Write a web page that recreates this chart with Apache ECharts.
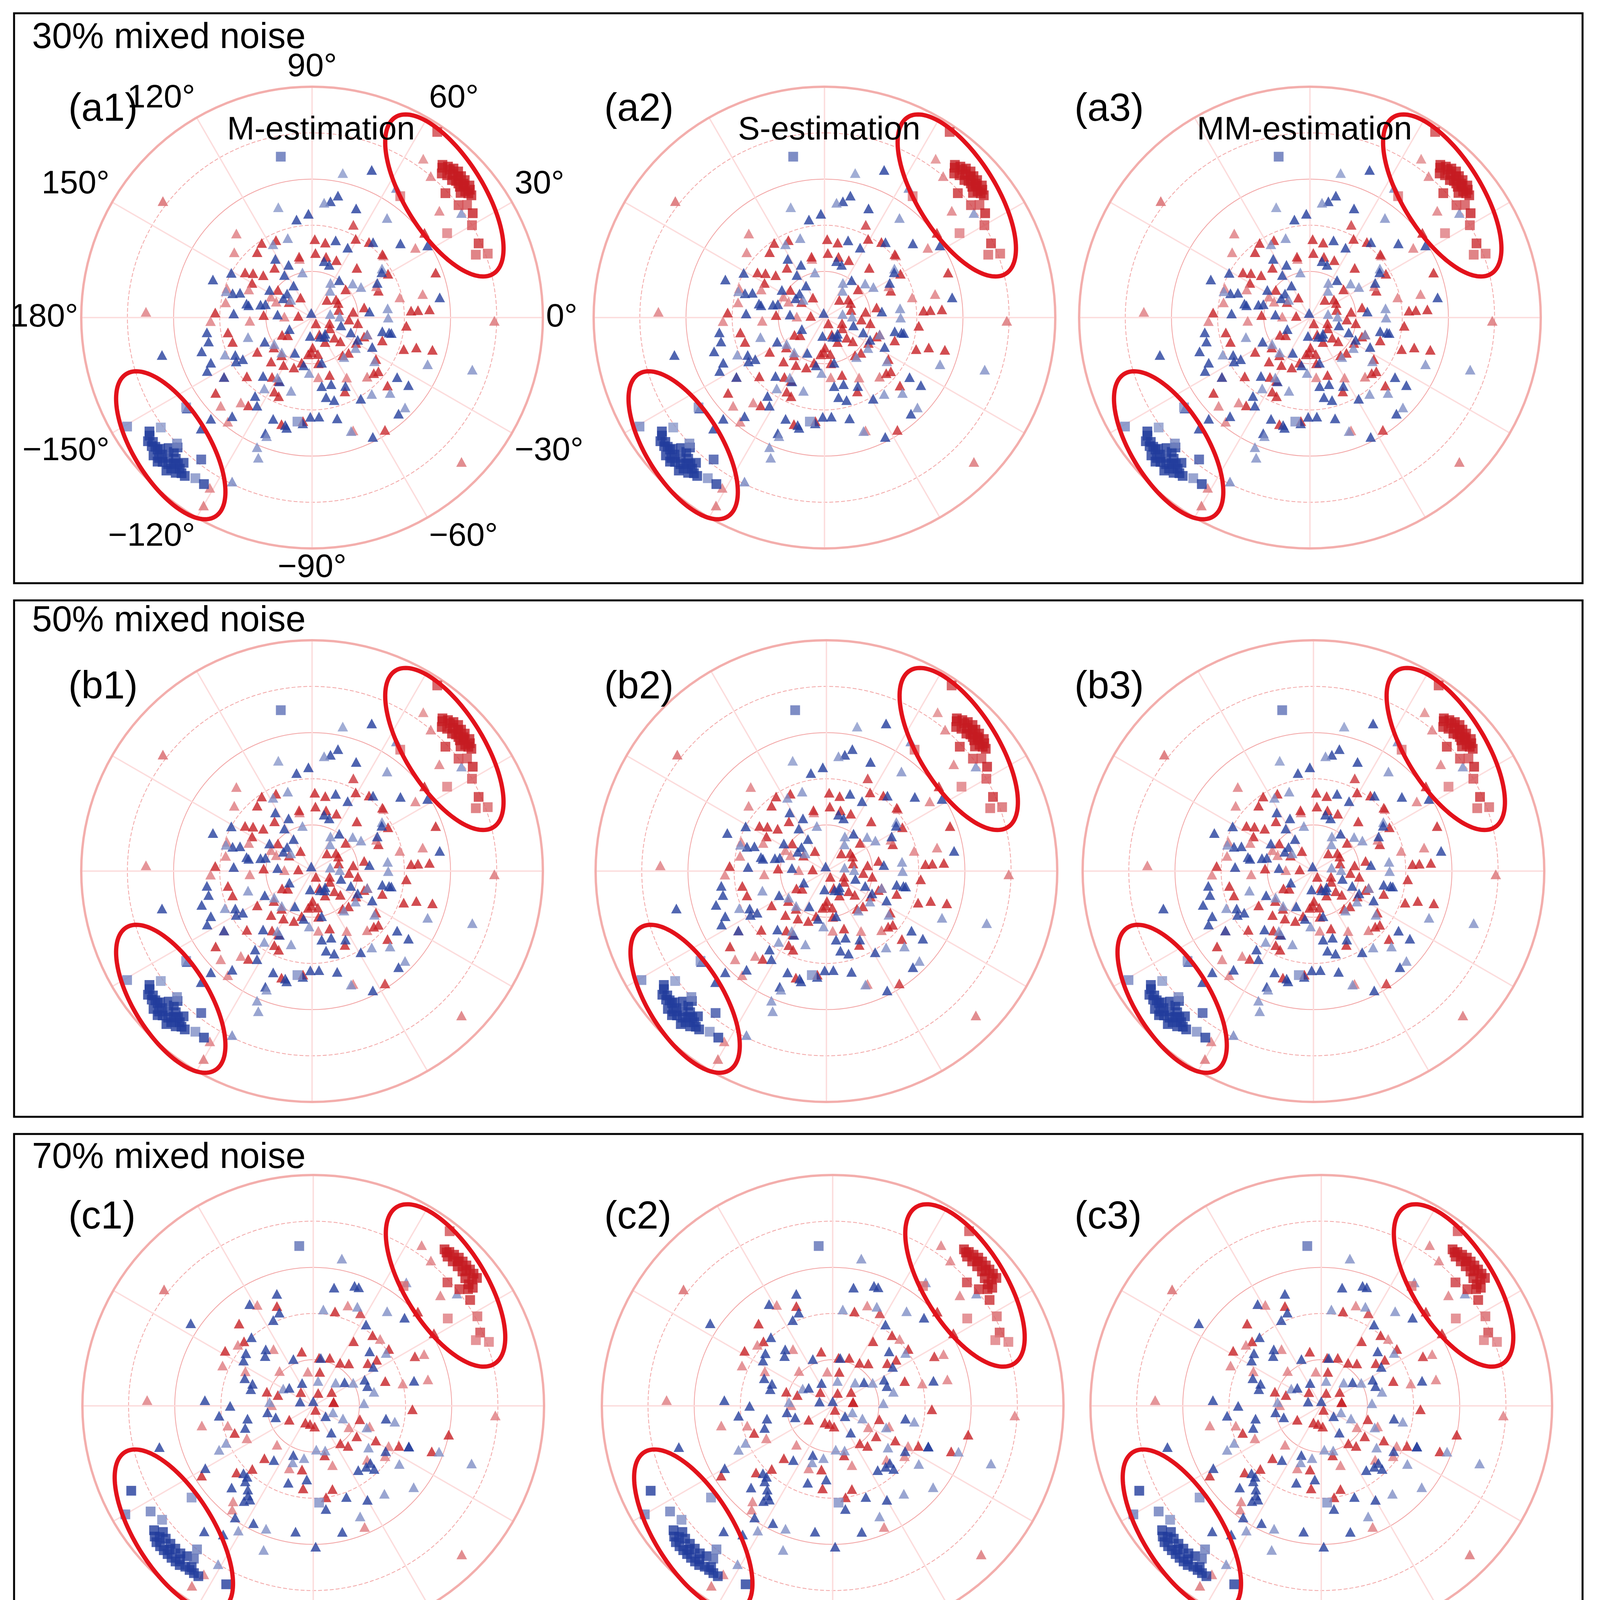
<!DOCTYPE html>
<html><head><meta charset="utf-8">
<script src="https://cdn.jsdelivr.net/npm/echarts@6/dist/echarts.min.js"></script>
<style>html,body{margin:0;padding:0;background:#fff}#c{width:4089px;height:4600px}</style>
</head><body><div id="c"></div>
<script>
// ---------------- DATA: [radius (0-1), phase angle (deg), weight] ----------------
const zxxAB = [[0.82,142,0.6],[0.44,66,0.8],[0.84,55,0.45],[0.80,50,0.5],[0.72,40,0.5],[0.61,37,0.9],[0.54,34,0.5],[0.57,20,0.9],[0.49,12,0.5],[0.51,4,0.9],[0.43,4,0.9],[0.79,-1,0.55],[0.90,-44,0.55],[0.54,-15,0.9],[0.47,-16,0.9],[0.42,-19,0.9],[0.41,-5,0.9],[0.58,-57,0.85],[0.44,-42,0.9],[0.35,-47,0.55],[0.37,-39,0.9],[0.33,-33,0.9],[0.22,-30,0.9],[0.39,13,0.5],[0.31,22,0.9],[0.38,30,0.9],[0.29,48,0.9],[0.41,53,0.9],[0.41,41,0.5],[0.39,61,0.9],[0.34,88,0.9],[0.27,67,0.9],[0.28,87,0.9],[0.19,40,0.9],[0.13,37,0.9],[0.06,173,0.9],[0.03,-56,0.9],[0.12,16,0.9],[0.09,-31,0.9],[0.12,-62,0.9],[0.13,-42,0.9],[0.16,-81,0.9],[0.16,-96,0.9],[0.20,-82,0.9],[0.20,-103,0.9],[0.26,-84,0.5],[0.26,-73,0.9],[0.35,-66,0.9],[0.22,-44,0.9],[0.20,-7,0.9],[0.18,8,0.9],[0.72,178,0.5],[0.49,132,0.5],[0.44,140,0.5],[0.39,124,0.9],[0.37,130,0.9],[0.37,115,0.9],[0.27,127,0.9],[0.35,146,0.9],[0.26,102,0.5],[0.19,141,0.9],[0.17,156,0.5],[0.38,170,0.5],[0.39,161,0.5],[0.42,177,0.9],[0.21,177,0.9],[0.27,-177,0.5],[0.44,-178,0.5],[0.37,-170,0.9],[0.36,-163,0.9],[0.28,-148,0.9],[0.26,-133,0.9],[0.21,-129,0.9],[0.46,-146,0.5],[0.38,-138,0.9],[0.31,-124,0.9],[0.47,-126,0.9],[0.48,-130,0.5],[0.37,-113,0.9],[0.55,-136,0.5],[0.58,-129,0.5],[0.48,-106,0.9],[0.86,-121,0.5],[0.94,-120,0.55],[0.33,80,0.9],[0.30,-60,0.5],[0.24,-20,0.9],[0.15,-150,0.9],[0.10,120,0.9],[0.45,-95,0.9],[0.52,-70,0.5],[0.30,150,0.9],[0.23,-110,0.9],[0.32,-18,0.9],[0.27,77,0.9],[0.08,-18,0.9],[0.13,-89,0.9],[0.16,-40,0.9],[0.21,-51,0.9],[0.16,-3,0.9],[0.20,153,0.5],[0.12,178,0.5],[0.21,-142,0.9],[0.31,-118,0.9],[0.12,146,0.9],[0.27,102,0.9],[0.28,139,0.9],[0.32,143,0.9],[0.36,-42,0.9],[0.25,-17,0.9],[0.46,4,0.9],[0.53,-142,0.9],[0.10,50,0.9],[0.13,29,0.9],[0.08,-67,0.9],[0.15,-91,0.9],[0.23,11,0.9],[0.41,42,0.9],[0.30,156,0.5],[0.36,-117,0.9],[0.24,-121,0.9],[0.13,-144,0.9],[0.31,26,0.5]];
const zyyAB = [[0.64,78,0.45],[0.69,68,0.95],[0.50,107,0.45],[0.45,92,0.95],[0.43,99,0.9],[0.51,81,0.9],[0.54,78,0.9],[0.50,84,0.5],[0.51,68,0.95],[0.54,53,0.5],[0.67,57,0.55],[0.79,35,0.5],[0.59,32,0.9],[0.56,9,0.9],[0.73,-18,0.5],[0.54,-22,0.5],[0.35,-11,0.9],[0.51,-35,0.9],[0.45,-35,0.9],[0.56,-44,0.5],[0.56,-48,0.9],[0.58,-63,0.9],[0.52,-71,0.5],[0.45,-76,0.9],[0.41,-59,0.9],[0.42,-52,0.5],[0.47,-44,0.5],[0.29,-26,0.9],[0.31,-11,0.9],[0.33,7,0.5],[0.25,6,0.9],[0.32,28,0.9],[0.37,35,0.5],[0.42,51,0.9],[0.34,63,0.9],[0.35,73,0.9],[0.24,72,0.9],[0.17,62,0.5],[0.20,54,0.9],[0.23,40,0.5],[0.25,32,0.5],[0.02,100,0.9],[0.08,11,0.5],[0.13,-15,0.9],[0.09,-67,0.9],[0.08,-96,0.9],[0.24,-93,0.5],[0.30,-82,0.9],[0.30,-74,0.9],[0.35,-80,0.9],[0.37,-75,0.9],[0.43,-86,0.9],[0.43,-91,0.9],[0.46,-95,0.9],[0.33,-106,0.5],[0.22,-26,0.9],[0.50,40,0.9],[0.67,-166,0.9],[0.46,159,0.9],[0.36,118,0.5],[0.36,107,0.5],[0.30,122,0.9],[0.40,151,0.9],[0.22,123,0.9],[0.25,114,0.9],[0.16,120,0.9],[0.20,102,0.5],[0.22,147,0.9],[0.15,136,0.9],[0.15,146,0.9],[0.36,163,0.9],[0.29,168,0.9],[0.34,177,0.9],[0.21,164,0.9],[0.15,175,0.9],[0.46,-172,0.9],[0.46,-167,0.9],[0.41,-157,0.5],[0.37,-154,0.9],[0.50,-163,0.9],[0.48,-156,0.9],[0.51,-153,0.9],[0.29,-163,0.5],[0.23,-153,0.9],[0.17,-116,0.9],[0.33,-130,0.9],[0.31,-117,0.9],[0.45,-122,0.9],[0.67,-144,0.9],[0.68,-135,0.9],[0.62,-135,0.9],[0.47,-111,0.9],[0.54,-112,0.9],[0.61,-113,0.5],[0.65,-111,0.5],[0.79,-116,0.55],[0.48,-104,0.9],[0.38,-150,0.9],[0.30,-120,0.5],[0.25,78,0.9],[0.14,56,0.5],[0.09,-51,0.9],[0.21,-100,0.9],[0.33,-64,0.9],[0.18,-21,0.9],[0.22,-51,0.5],[0.23,-35,0.5],[0.33,-35,0.5],[0.34,-11,0.9],[0.36,33,0.9],[0.12,140,0.5],[0.33,161,0.9],[0.39,163,0.5],[0.35,-149,0.9],[0.20,-145,0.5],[0.20,-131,0.5],[0.46,-146,0.9],[0.42,-126,0.9],[0.37,-124,0.5],[0.49,-103,0.9],[0.55,-111,0.5],[0.55,-129,0.9],[0.10,-57,0.9],[0.20,-78,0.9],[0.11,-153,0.9],[0.33,0,0.5],[0.25,-17,0.5],[0.12,2,0.5],[0.23,166,0.9],[0.28,169,0.9]];
const zxyAB = [[0.97,56,0.75],[0.65,54,0.55],[0.86,49,0.95],[0.88,48,0.95],[0.89,46.5,1],[0.895,45,1],[0.89,43.5,1],[0.89,42,1],[0.89,40,1],[0.88,39,1],[0.87,37.5,1],[0.85,46.5,0.9],[0.85,44.5,0.95],[0.86,42.5,0.95],[0.87,41,0.95],[0.84,40,0.9],[0.79,43,0.85],[0.80,37.5,0.75],[0.83,36,0.7],[0.83,33,0.95],[0.80,30,0.7],[0.69,32,0.5],[0.79,24,0.85],[0.76,21,0.6],[0.81,20,0.6],[0.87,45.5,1],[0.86,39.5,1],[0.84,48,0.9],[0.875,47,1],[0.88,44,1],[0.875,41.5,1],[0.865,38.5,1],[0.86,43.5,1],[0.855,41.5,1],[0.87,49.5,0.95]];
const zyxAB = [[0.93,-149.5,0.55],[0.81,-144,0.45],[0.67,-144.5,0.5],[0.86,-145,1],[0.89,-143,1],[0.89,-141.3,1],[0.88,-139.5,1],[0.88,-137.6,1],[0.87,-135.7,1],[0.87,-133.5,1],[0.87,-131.2,1],[0.88,-128.8,1],[0.915,-133.6,1],[0.915,-137,1],[0.87,-139.2,1],[0.84,-137.7,1],[0.835,-135.8,1],[0.81,-136,0.9],[0.84,-131.5,1],[0.895,-131.3,1],[0.91,-139,1],[0.78,-128,0.8],[0.86,-126,0.5],[0.86,-123,1],[0.80,-137,0.55],[0.455,-98,0.5],[0.71,101,0.65],[0.87,-144,1],[0.89,-134.5,1],[0.875,-142,1],[0.88,-140.5,1],[0.90,-136,1],[0.895,-133,1],[0.88,-130,1],[0.85,-134,1],[0.86,-132.5,1],[0.90,-137.5,1]];

const zxxC = [[0.82,142,0.6],[0.84,56,0.5],[0.81,51,0.5],[0.73,41,0.5],[0.50,119,0.5],[0.46,110,0.9],[0.42,77,0.9],[0.46,71,0.5],[0.45,63,0.8],[0.61,42,0.9],[0.61,31,0.9],[0.53,25,0.5],[0.49,26,0.85],[0.51,13,0.5],[0.40,14,0.5],[0.43,-2,0.9],[0.79,-3,0.5],[0.60,-12,0.9],[0.55,-21,0.9],[0.91,-45,0.55],[0.41,-25,0.9],[0.57,-67,0.5],[0.87,-123,0.5],[0.94,-124,0.55],[0.57,-128,0.5],[0.57,-148,0.9],[0.72,178,0.5],[0.49,-170,0.5],[0.43,156,0.5],[0.45,148,0.9],[0.48,132,0.9],[0.41,137,0.9],[0.33,153,0.5],[0.21,163,0.9],[0.16,163,0.9],[0.18,179,0.5],[0.38,-167,0.5],[0.36,-161,0.9],[0.32,-154,0.5],[0.44,-139,0.9],[0.38,-134,0.9],[0.31,-133,0.9],[0.23,-133,0.5],[0.29,-111,0.5],[0.36,-97,0.9],[0.22,-77,0.9],[0.40,-82,0.9],[0.37,-77,0.9],[0.27,-72,0.5],[0.20,-54,0.9],[0.23,-49,0.9],[0.23,-35,0.9],[0.31,-29,0.9],[0.21,-16,0.9],[0.18,-31,0.5],[0.09,11,0.9],[0.10,37,0.9],[0.22,58,0.9],[0.22,71,0.9],[0.21,83,0.9],[0.15,99,0.5],[0.06,69,0.9],[0.02,-60,0.9],[0.08,132,0.9],[0.24,102,0.9],[0.08,-115,0.9],[0.41,37,0.9],[0.40,50,0.9],[0.33,58,0.9],[0.30,38,0.9],[0.33,19,0.9],[0.33,-45,0.5],[0.26,-20,0.5],[0.30,125,0.5],[0.12,-150,0.9],[0.28,-100,0.9],[0.42,141,0.5],[0.54,-130,0.5],[0.38,-35,0.5],[0.37,-28,0.5],[0.24,50,0.9],[0.15,79,0.9],[0.21,134,0.5],[0.08,-100,0.9],[0.09,-86,0.9],[0.09,10,0.9],[0.41,45,0.5],[0.34,36,0.9]];
const zyyC = [[0.65,79,0.5],[0.67,53,0.5],[0.79,38,0.5],[0.52,80,0.9],[0.55,71,0.9],[0.51,108,0.9],[0.52,122,0.9],[0.43,110,0.9],[0.42,84,0.5],[0.47,66,0.5],[0.52,52,0.5],[0.55,44,0.9],[0.45,14,0.9],[0.58,-20,0.5],[0.73,-20,0.5],[0.45,-23,0.9],[0.56,-39,0.5],[0.45,-34,0.5],[0.36,-11,0.5],[0.32,-10,0.9],[0.49,-51,0.5],[0.52,-67,0.5],[0.47,-60,0.9],[0.42,-70,0.9],[0.56,-77,0.9],[0.61,-89,0.9],[0.55,-98,0.9],[0.66,-109,0.5],[0.57,-111,0.5],[0.57,-117,0.9],[0.63,-121,0.5],[0.68,-125,0.9],[0.72,-131,0.9],[0.80,-121,0.5],[0.59,-125,0.9],[0.54,-150,0.9],[0.69,-165,0.9],[0.64,146,0.9],[0.47,177,0.9],[0.45,-155,0.5],[0.41,-174,0.9],[0.36,180,0.9],[0.40,132,0.9],[0.37,142,0.9],[0.32,158,0.9],[0.28,160,0.9],[0.32,130,0.9],[0.20,-172,0.9],[0.17,-163,0.9],[0.29,-169,0.9],[0.31,-162,0.9],[0.50,-135,0.9],[0.44,-132,0.9],[0.46,-128,0.9],[0.48,-126,0.9],[0.51,-126,0.9],[0.42,-136,0.9],[0.29,-126,0.9],[0.23,-112,0.9],[0.35,-108,0.9],[0.32,-95,0.9],[0.45,-83,0.9],[0.14,-56,0.9],[0.34,-55,0.9],[0.35,-45,0.9],[0.30,-37,0.5],[0.37,-32,0.9],[0.45,-23,0.9],[0.22,3,0.5],[0.17,37,0.9],[0.11,79,0.5],[0.02,90,0.9],[0.11,116,0.9],[0.22,113,0.9],[0.09,-18,0.5],[0.34,44,0.9],[0.39,36,0.5],[0.42,57,0.9],[0.26,-110,0.5],[0.15,150,0.5],[0.25,20,0.9],[0.20,-75,0.5],[0.55,69,0.9],[0.41,115,0.9],[0.36,147,0.9],[0.28,165,0.9],[0.30,134,0.9],[0.19,175,0.5],[0.41,-157,0.5],[0.49,-124,0.9],[0.42,-133,0.9],[0.23,-100,0.5],[0.19,-86,0.5],[0.38,-46,0.9],[0.35,-49,0.9],[0.25,-22,0.5],[0.14,-23,0.5],[0.20,30,0.5],[0.14,46,0.5],[0.21,81,0.9],[0.13,143,0.9],[0.06,162,0.9],[0.07,-40,0.9],[0.31,33,0.9],[0.25,27,0.9],[0.27,13,0.5]];
const zxyC = [[0.96,52,0.7],[0.65,53,0.55],[0.885,50,1],[0.89,48.5,1],[0.895,47,1],[0.90,45.5,1],[0.90,44,1],[0.90,42.5,1],[0.90,41,1],[0.90,39.5,1],[0.90,38,1],[0.86,36.5,1],[0.87,48,1],[0.87,46,1],[0.87,44,1],[0.87,42,1],[0.86,40,1],[0.79,42.6,0.8],[0.81,38.6,0.85],[0.82,34,0.85],[0.81,28.6,0.6],[0.695,33,0.5],[0.79,23.7,0.75],[0.76,22,0.5],[0.81,20,0.5],[0.84,37,0.9],[0.88,49,1],[0.885,45,1],[0.885,41.5,1],[0.88,38.5,1],[0.855,38,1]];
const zyxC = [[0.87,-155,1],[0.94,-150,0.6],[0.84,-147,0.6],[0.82,-143,0.5],[0.66,-143,0.5],[0.86,-116,1],[0.80,-129,0.6],[0.875,-142,1],[0.89,-140.5,1],[0.90,-139,1],[0.90,-137.5,1],[0.90,-136,1],[0.90,-134.5,1],[0.90,-133,1],[0.90,-131.5,1],[0.90,-130,1],[0.89,-128.5,1],[0.89,-127,1],[0.89,-125.5,1],[0.89,-124,1],[0.85,-140,1],[0.86,-138,1],[0.86,-136,1],[0.86,-134,1],[0.86,-132,1],[0.85,-130,1],[0.84,-128,0.7],[0.695,95,0.65],[0.42,-86.5,0.5],[0.875,-139.5,1],[0.88,-135,1],[0.88,-131,1],[0.875,-127,1]];

// ellipse annotations: [centre radius, centre angle, semi-major, semi-minor, tilt deg]
const ellipsesAB = [[0.78,42.7,0.40,0.17,-58],[0.825,-137.9,0.364,0.162,-58]];
const ellipsesC = [[0.775,42.3,0.40,0.175,-58],[0.81,-138.2,0.40,0.17,-58]];

const panelTitles = ['30% mixed noise','50% mixed noise','70% mixed noise'];
const methodNames = ['M-estimation','S-estimation','MM-estimation'];
const plotLabels = [['(a1)','(a2)','(a3)'],['(b1)','(b2)','(b3)'],['(c1)','(c2)','(c3)']];
const weightTickLabels = ['0.0','0.25','0.5','0.75','1.0'];
const legendNames = ['Zxx','Zxy','Zyx','Zyy'];
const colorbarNames = ['Zxx&Zxy','Zyx&Zyy'];

// ---------------- LAYOUT / STYLE ----------------
const FONT = '"Liberation Sans", Arial, Helvetica, sans-serif';
const RED = [198, 28, 34], BLUE = [34, 60, 156];
const R = 591;
const rowY = [813, 2230, 3599];
const colX = [[799, 2111, 3354], [799, 2116, 3363], [802, 2132, 3383]];
const panels = [[36, 34, 4016, 1459], [36, 1537, 4016, 1322], [36, 2903, 4016, 1329]];
const titleY = [98, 1591, 2965];
const labelY = [281, 1760, 3117];
const labelX = [175, 1547, 2751];
const methodX = [822, 2123, 3340];
const T = 'rgba(0,0,0,0)', P = '#f2a4a4';

function mix(base, w) {
  const c = base.map(v => Math.round(255 + (v - 255) * w));
  return 'rgb(' + c.join(',') + ')';
}
const ptColor = (base) => (p => mix(base, Math.min(1, p.value[2] + 0.08)));
function fmtAngle(v) {
  if (v === -180 || v === 180) return '180°';
  return (v < 0 ? '\u2212' + (-v) : '' + v) + '°';
}
function renderEllipse(params, api) {
  const c = api.coord([api.value(0), api.value(1)]);
  const o = api.coord([0, 0]);
  const e = api.coord([1, 0]);
  const Rpx = Math.hypot(e[0] - o[0], e[1] - o[1]);
  const a = api.value(2) * Rpx, b = api.value(3) * Rpx, phi = api.value(4) * Math.PI / 180;
  const pts = [];
  for (let t = 0; t <= 144; t++) {
    const th = t / 144 * 2 * Math.PI;
    const x = a * Math.cos(th), y = b * Math.sin(th);
    pts.push([c[0] + x * Math.cos(phi) - y * Math.sin(phi), c[1] - (x * Math.sin(phi) + y * Math.cos(phi))]);
  }
  return { type: 'polygon', shape: { points: pts }, style: { fill: 'none', stroke: '#e3121b', lineWidth: 11 } };
}

const polar = [], angleAxis = [], radiusAxis = [], series = [], graphic = [];

panels.forEach(p => graphic.push({ type: 'rect', shape: { x: p[0], y: p[1], width: p[2], height: p[3] }, style: { fill: 'none', stroke: '#000', lineWidth: 5 }, z: 1 }));
panelTitles.forEach((t, i) => graphic.push({ type: 'text', x: 82, y: titleY[i], style: { text: t, font: '92px ' + FONT, fill: '#000', textVerticalAlign: 'middle' }, z: 10 }));

for (let i = 0; i < 3; i++) {
  for (let j = 0; j < 3; j++) {
    const k = i * 3 + j;
    const cx = colX[i][j], cy = rowY[i];
    const isC = i === 2;
    polar.push({ center: [cx, cy], radius: R });
    polar.push({ center: [cx, cy], radius: R });
    angleAxis.push({
      polarIndex: 2 * k, type: 'value', min: -180, max: 180, interval: 30, startAngle: 180, clockwise: false,
      axisLine: { show: true, lineStyle: { color: '#f3aeac', width: 6 } },
      axisTick: { show: false },
      splitLine: { show: true, lineStyle: { color: '#fcdcdc', width: 3.5 } },
      axisLabel: { show: k === 0, margin: 8, fontSize: 84, color: '#000', fontFamily: FONT, formatter: fmtAngle }
    });
    radiusAxis.push({
      polarIndex: 2 * k, type: 'value', min: 0, max: 1, interval: 0.2,
      axisLine: { show: false }, axisTick: { show: false }, axisLabel: { show: false },
      splitLine: { show: true, lineStyle: { type: [10, 5], width: 2, color: [T, T, P, T, P, T] } }
    });
    angleAxis.push({
      polarIndex: 2 * k + 1, type: 'value', min: -180, max: 180, interval: 30, startAngle: 180, clockwise: false,
      axisLine: { show: false }, axisTick: { show: false }, splitLine: { show: false }, axisLabel: { show: false }
    });
    radiusAxis.push({
      polarIndex: 2 * k + 1, type: 'value', min: 0, max: 1, interval: 0.2,
      axisLine: { show: false }, axisTick: { show: false }, axisLabel: { show: false },
      splitLine: { show: true, lineStyle: { type: 'solid', width: 2, color: [T, P, T, P, T, T] } }
    });
    const sets = isC ? [zxxC, zyyC, zxyC, zyxC] : [zxxAB, zyyAB, zxyAB, zyxAB];
    const common = { type: 'scatter', coordinateSystem: 'polar', polarIndex: 2 * k, silent: true };
    series.push(Object.assign({}, common, { name: 'Zxx', symbol: 'triangle', symbolSize: [27, 25], data: sets[0], z: 3, itemStyle: { color: ptColor(RED) } }));
    series.push(Object.assign({}, common, { name: 'Zyy', symbol: 'triangle', symbolSize: [27, 25], data: sets[1], z: 3, itemStyle: { color: ptColor(BLUE) } }));
    series.push(Object.assign({}, common, { name: 'Zxy', symbol: 'rect', symbolSize: 25, data: sets[2], z: 4, itemStyle: { color: ptColor(RED) } }));
    series.push(Object.assign({}, common, { name: 'Zyx', symbol: 'rect', symbolSize: 25, data: sets[3], z: 4, itemStyle: { color: ptColor(BLUE) } }));
    series.push({
      type: 'custom', coordinateSystem: 'polar', polarIndex: 2 * k, silent: true, z: 6,
      dimensions: ['r', 'ang', 'a', 'b', 'tilt'], encode: { radius: 0, angle: 1 },
      data: isC ? ellipsesC : ellipsesAB, renderItem: renderEllipse
    });
    graphic.push({ type: 'text', x: labelX[j], y: labelY[i], style: { text: plotLabels[i][j], font: '100px ' + FONT, fill: '#000', textVerticalAlign: 'middle' }, z: 10 });
    if (i === 0) {
      graphic.push({ type: 'text', x: methodX[j], y: 334, style: { text: methodNames[j], font: '84px ' + FONT, fill: '#000', textAlign: 'center', textVerticalAlign: 'middle' }, z: 10 });
    }
  }
}

// colour bars
const grad = base => new echarts.graphic.LinearGradient(0, 0, 1, 0, [{ offset: 0, color: '#ffffff' }, { offset: 1, color: mix(base, 1) }]);
series.push({ type: 'bar', xAxisIndex: 0, yAxisIndex: 0, data: [1], barWidth: '100%', silent: true, itemStyle: { color: grad(RED), borderColor: '#000', borderWidth: 5 } });
series.push({ type: 'bar', xAxisIndex: 1, yAxisIndex: 1, data: [1], barWidth: '100%', silent: true, itemStyle: { color: grad(BLUE), borderColor: '#000', borderWidth: 5 } });

const option = {
  animation: false,
  backgroundColor: '#fff',
  textStyle: { fontFamily: FONT },
  polar, angleAxis, radiusAxis,
  grid: [
    { left: 1251, top: 4269, width: 977, height: 45 },
    { left: 1251, top: 4333, width: 977, height: 44 }
  ],
  xAxis: [
    { gridIndex: 0, type: 'value', min: 0, max: 1, show: false },
    { gridIndex: 1, type: 'value', min: 0, max: 1, interval: 0.25,
      axisLine: { show: false }, splitLine: { show: false },
      axisTick: { show: true, length: 26, lineStyle: { color: '#000', width: 3 } },
      axisLabel: { margin: 28, fontSize: 72, color: '#000', fontFamily: FONT, formatter: v => weightTickLabels[Math.round(v * 4)] },
      name: 'Weight', nameLocation: 'middle', nameGap: 115, nameTextStyle: { fontSize: 72, color: '#000', fontFamily: FONT } }
  ],
  yAxis: [
    { gridIndex: 0, type: 'category', data: [colorbarNames[0]], position: 'right', axisLine: { show: false }, axisTick: { show: false },
      axisLabel: { margin: 23, fontSize: 72, color: '#c8222b', fontFamily: FONT } },
    { gridIndex: 1, type: 'category', data: [colorbarNames[1]], position: 'right', axisLine: { show: false }, axisTick: { show: false },
      axisLabel: { margin: 23, fontSize: 72, color: '#2a45a4', fontFamily: FONT, padding: [24, 0, 0, 0] } }
  ],
  legend: {
    orient: 'vertical', left: 2592, top: 4250, selectedMode: false,
    padding: [18, 25, 25, 49], itemGap: 28, itemWidth: 48, itemHeight: 48,
    borderColor: '#e2e2e2', borderWidth: 3, borderRadius: 8, backgroundColor: '#fff',
    textStyle: { fontSize: 74, lineHeight: 48, color: '#000', fontFamily: FONT, padding: [0, 0, 0, 41] },
    data: [
      { name: legendNames[0], icon: 'triangle', itemStyle: { color: '#d6483a' } },
      { name: legendNames[1], icon: 'rect', itemStyle: { color: '#d6483a' } },
      { name: legendNames[2], icon: 'rect', itemStyle: { color: '#4058ab' } },
      { name: legendNames[3], icon: 'triangle', itemStyle: { color: '#4058ab' } }
    ]
  },
  graphic,
  series
};

const chart = echarts.init(document.getElementById('c'), null, { renderer: 'canvas' });
chart.setOption(option);
</script>
</body></html>
